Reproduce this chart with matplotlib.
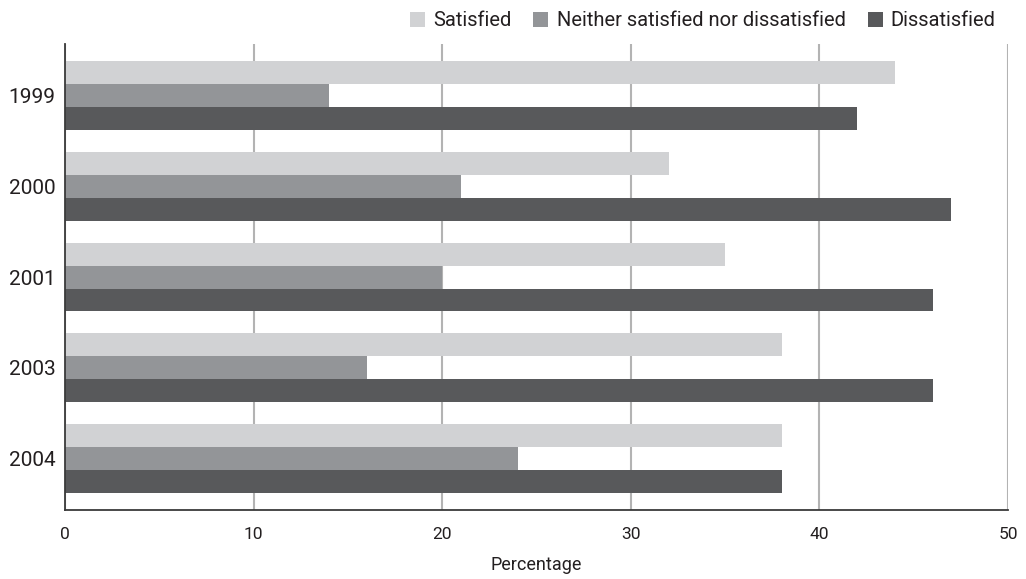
import matplotlib.pyplot as plt
import numpy as np

plt.rcParams['font.family'] = ['Roboto', 'DejaVu Sans']

years = ['1999', '2000', '2001', '2003', '2004']
satisfied = [44, 32, 35, 38, 38]
neither = [14, 21, 20, 16, 24]
dissatisfied = [42, 47, 46, 46, 38]

series = [
    ('Satisfied', satisfied, '#d1d2d4'),
    ('Neither satisfied nor dissatisfied', neither, '#939598'),
    ('Dissatisfied', dissatisfied, '#58595b'),
]

fig = plt.figure(figsize=(10.26, 5.79), dpi=100)
ax = fig.add_axes([0.0634, 0.119, 0.919, 0.805])

y = np.arange(len(years))
h = 0.253
for i, (label, vals, color) in enumerate(series):
    ax.barh(y + (i - 1) * h, vals, height=h, color=color, label=label,
            zorder=2)

ax.set_xlim(0, 50)
ax.set_ylim(4.57, -0.57)
ax.set_xticks(np.arange(0, 51, 10))
ax.set_yticks(y)
ax.set_yticklabels(years)
ax.tick_params(axis='both', length=0, colors='#231f20')
ax.tick_params(axis='x', labelsize=12.5, pad=12)
ax.tick_params(axis='y', labelsize=15, pad=7)

ax.grid(axis='x', color='#b3b3b3', linewidth=1.5, zorder=1)
for s in ['top', 'right']:
    ax.spines[s].set_visible(False)
for s in ['left', 'bottom']:
    ax.spines[s].set_color('#3a3a3a')
    ax.spines[s].set_linewidth(1.3)

ax.set_xlabel('Percentage', fontsize=13, color='#231f20', labelpad=10)

fig.legend(loc='upper right', bbox_to_anchor=(0.988, 1.012), ncol=3,
           frameon=False, fontsize=14.5, handlelength=0.75,
           handleheight=0.75, handletextpad=0.4, columnspacing=1.1,
           labelcolor='#231f20')

fig.savefig('out.png', dpi=100)
